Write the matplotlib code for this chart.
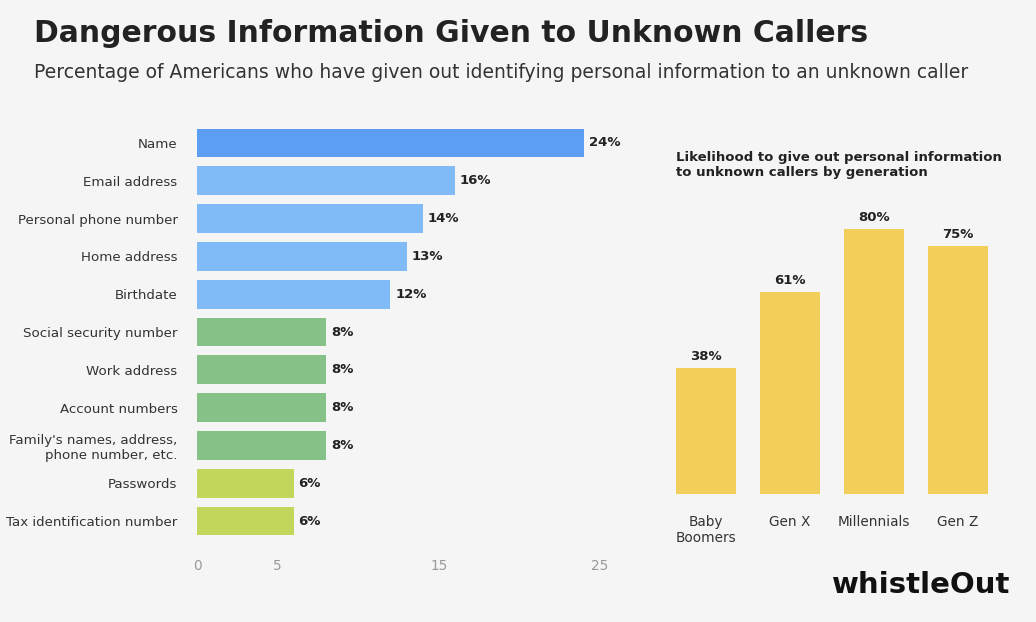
import matplotlib
matplotlib.use("Agg")
import matplotlib.pyplot as plt

cats = ["Name", "Email address", "Personal phone number", "Home address", "Birthdate",
        "Social security number", "Work address", "Account numbers",
        "Family's names, address,\nphone number, etc.", "Passwords", "Tax identification number"]
vals = [24, 16, 14, 13, 12, 8, 8, 8, 8, 6, 6]
cols = ["#5c9ef2"] + ["#80baf7"] * 4 + ["#86c287"] * 4 + ["#c3d65c"] * 2
xticks = [0, 5, 15, 25]

gens = ["Baby\nBoomers", "Gen X", "Millennials", "Gen Z"]
gvals = [38, 61, 80, 75]

W, H = 1036, 622
fig = plt.figure(figsize=(W / 100, H / 100), dpi=100)
fig.patch.set_facecolor("#f5f5f5")

fig.text(34 / W, 1 - 33 / H, "Dangerous Information Given to Unknown Callers",
         fontsize=21.5, fontweight="bold", color="#222222", va="center")
fig.text(34 / W, 1 - 73 / H,
         "Percentage of Americans who have given out identifying personal information to an unknown caller",
         fontsize=13.5, color="#333333", va="center")

ax = fig.add_axes([197 / W, 1 - 540 / H, (613 - 197) / W, (540 - 124) / H])
ax.set_facecolor("#f5f5f5")
y = list(range(len(cats)))
ax.barh(y, vals, color=cols, height=0.76)
for yi, v in zip(y, vals):
    ax.text(v + 0.3, yi, f"{v}%", va="center", fontsize=9.5, fontweight="bold", color="#222222")
ax.set_ylim(len(cats) - 0.5, -0.5)
ax.set_xlim(0, 25.8)
ax.set_yticks(y)
ax.set_yticklabels(cats, fontsize=9.6, color="#333333", ha="right", linespacing=1.2)
ax.tick_params(axis="y", length=0, pad=14)
ax.set_xticks(xticks)
ax.set_xticklabels([str(t) for t in xticks], fontsize=9.8, color="#999999")
ax.tick_params(axis="x", length=0, pad=14)
for s in ax.spines.values():
    s.set_visible(False)

fig.text(676 / W, 1 - 165 / H,
         "Likelihood to give out personal information\nto unknown callers by generation",
         fontsize=9.5, fontweight="bold", color="#222222", va="center")

ax2 = fig.add_axes([652 / W, 1 - 494 / H, (989 - 652) / W, (494 - 200) / H])
ax2.set_facecolor("#f5f5f5")
gx = list(range(len(gens)))
ax2.bar(gx, gvals, color="#f2cf5b", width=0.72)
for xi, v in zip(gx, gvals):
    ax2.text(xi, v + 1.5, f"{v}%", ha="center", va="bottom", fontsize=9.5, fontweight="bold", color="#222222")
ax2.set_xlim(-0.64, 3.37)
ax2.set_ylim(0, 294 / 3.31)
ax2.set_xticks(gx)
ax2.set_xticklabels(gens, fontsize=9.8, color="#333333", va="top")
ax2.tick_params(axis="x", length=0, pad=15)
ax2.set_yticks([])
for s in ax2.spines.values():
    s.set_visible(False)

fig.text(1010 / W, 1 - 585 / H, "whistleOut", fontsize=21, fontweight="bold",
         color="#111111", ha="right", va="center")

fig.savefig("out.png", dpi=100, facecolor=fig.get_facecolor())
